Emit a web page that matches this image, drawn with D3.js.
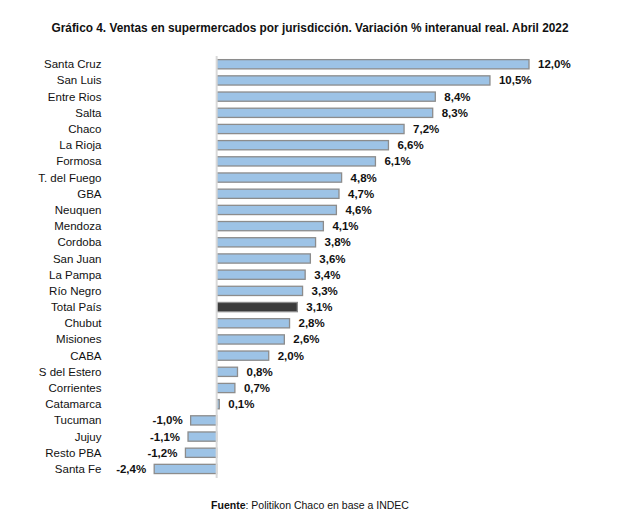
<!DOCTYPE html>
<html>
<head>
<meta charset="utf-8">
<script src="https://cdn.jsdelivr.net/npm/d3@7"></script>
<style>
body { margin: 0; background: #fff; }
text { font-family: "Liberation Sans", Arial, sans-serif; }
</style>
</head>
<body>
<div id="chart"></div>
<script>
var jurisdicciones = ["Santa Cruz", "San Luis", "Entre Rios", "Salta", "Chaco", "La Rioja", "Formosa",
	"T. del Fuego", "GBA", "Neuquen", "Mendoza", "Cordoba", "San Juan", "La Pampa", "Río Negro",
	"Total País", "Chubut", "Misiones", "CABA", "S del Estero", "Corrientes", "Catamarca",
	"Tucuman", "Jujuy", "Resto PBA", "Santa Fe"];
var variacion = [12.0, 10.5, 8.4, 8.3, 7.2, 6.6, 6.1, 4.8, 4.7, 4.6, 4.1, 3.8, 3.6, 3.4, 3.3,
	3.1, 2.8, 2.6, 2.0, 0.8, 0.7, 0.1, -1.0, -1.1, -1.2, -2.4];
var destacado = "Total País";

var W = 623, H = 519;
var svg = d3.select("#chart").append("svg").attr("width", W).attr("height", H);

var data = jurisdicciones.map(function (d, i) { return {name: d, value: variacion[i]}; });

var x = d3.scaleLinear().domain([-2.4, 12]).range([154.2, 529]);
var y = d3.scaleBand().domain(jurisdicciones).range([56.4, 476.8]).paddingInner(0.43).paddingOuter(0.2);

// titulo
svg.append("text")
	.attr("x", 310).attr("y", 32)
	.attr("text-anchor", "middle")
	.style("font-size", "12px").style("font-weight", "bold").style("fill", "#111")
	.attr("textLength", 517).attr("lengthAdjust", "spacingAndGlyphs")
	.text("Gráfico 4. Ventas en supermercados por jurisdicción. Variación % interanual real. Abril 2022");

// barras
svg.selectAll("rect.bar").data(data).enter().append("rect")
	.attr("class", "bar")
	.attr("x", function (d) { return x(Math.min(0, d.value)); })
	.attr("y", function (d) { return y(d.name); })
	.attr("width", function (d) { return Math.abs(x(d.value) - x(0)); })
	.attr("height", y.bandwidth())
	.attr("fill", function (d) { return d.name == destacado ? "#3b3b3b" : "#9dc3e6"; })
	.attr("stroke", "#8c8c8c").attr("stroke-width", 1.3);

// linea del cero
svg.append("line")
	.attr("x1", x(0)).attr("x2", x(0))
	.attr("y1", 56).attr("y2", 478)
	.attr("stroke", "#d9d9d9").attr("stroke-width", 2);

// etiquetas de jurisdiccion
svg.selectAll("text.cat").data(data).enter().append("text")
	.attr("class", "cat")
	.attr("x", 101.5)
	.attr("y", function (d) { return y(d.name) + y.bandwidth() / 2; })
	.attr("dy", "0.35em")
	.attr("text-anchor", "end")
	.style("font-size", "11.5px").style("fill", "#111")
	.text(function (d) { return d.name; });

// valores
var fmt = function (v) { return v.toFixed(1).replace(".", ",") + "%"; };
svg.selectAll("text.val").data(data).enter().append("text")
	.attr("class", "val")
	.attr("x", function (d) { return d.value >= 0 ? x(d.value) + 9 : x(d.value) - 8; })
	.attr("y", function (d) { return y(d.name) + y.bandwidth() / 2; })
	.attr("dy", "0.35em")
	.attr("text-anchor", function (d) { return d.value >= 0 ? "start" : "end"; })
	.style("font-size", "11.5px").style("font-weight", "bold").style("fill", "#111")
	.text(function (d) { return fmt(d.value); });

// fuente
var f = svg.append("text")
	.attr("x", 310).attr("y", 509)
	.attr("text-anchor", "middle")
	.style("font-size", "10.5px").style("fill", "#111");
f.append("tspan").style("font-weight", "bold").text("Fuente");
f.append("tspan").text(": Politikon Chaco en base a INDEC");
</script>
</body>
</html>
